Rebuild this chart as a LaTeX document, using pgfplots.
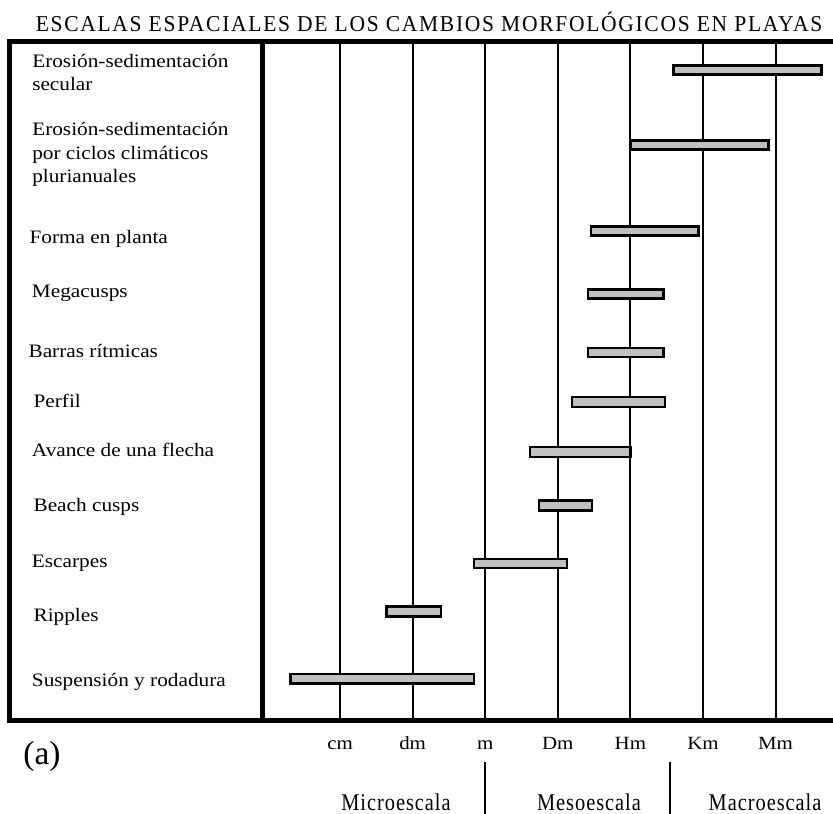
\documentclass[border=0pt]{standalone}
\usepackage{fontspec}
\setmainfont{Liberation Serif}
\newfontfamily\labfont{Liberation Serif}[FakeStretch=1.12]
\newfontfamily\titfont{Liberation Serif}[LetterSpace=7.5,FakeStretch=0.95]
\newfontfamily\sclfont{Liberation Serif}[LetterSpace=4,FakeStretch=0.85]
\usepackage{pgfplots}
\pgfplotsset{compat=1.18}
\definecolor{bargray}{RGB}{192,192,192}
\newcommand{\lab}{\labfont\fontsize{14.25}{17}\selectfont}
\begin{document}
\begin{tikzpicture}
\begin{axis}[
  at={(0,0)}, anchor=south west,
  scale only axis, width=617.25pt, height=509.625pt,
  xmin=-6.5465, xmax=4.791,
  ymin=41, ymax=720.5, y dir=reverse,
  axis line style={draw=none},
  xtick={-2,...,4}, xticklabels={cm,dm,m,Dm,Hm,Km,Mm},
  major tick length=0pt,
  ytick=\empty,
  xmajorgrids, grid style={black, line width=1.5pt},
  xticklabel style={font=\labfont\fontsize{14}{16}\selectfont, anchor=base, yshift=-21.4pt},
  clip=false,
]
% bars: (start, end) in decades of metres (m = 0), y = row position
\addplot[draw=black, fill=bargray, line width=2pt] coordinates {(2.592,65.5) (4.634,65.5) (4.634,74.5) (2.592,74.5)} -- cycle;
\addplot[draw=black, fill=bargray, line width=2pt] coordinates {(2.000,140.5) (3.900,140.5) (3.900,149.5) (2.000,149.5)} -- cycle;
\addplot[draw=black, fill=bargray, line width=2pt] coordinates {(1.457,226.5) (2.934,226.5) (2.934,235.5) (1.457,235.5)} -- cycle;
\addplot[draw=black, fill=bargray, line width=2pt] coordinates {(1.414,289.5) (2.456,289.5) (2.456,298.5) (1.414,298.5)} -- cycle;
\addplot[draw=black, fill=bargray, line width=2pt] coordinates {(1.414,348) (2.456,348) (2.456,357) (1.414,357)} -- cycle;
\addplot[draw=black, fill=bargray, line width=2pt] coordinates {(1.197,397) (2.476,397) (2.476,407) (1.197,407)} -- cycle;
\addplot[draw=black, fill=bargray, line width=2pt] coordinates {(0.617,447) (2.000,447) (2.000,457) (0.617,457)} -- cycle;
\addplot[draw=black, fill=bargray, line width=2pt] coordinates {(0.743,500.5) (1.471,500.5) (1.471,510.5) (0.743,510.5)} -- cycle;
\addplot[draw=black, fill=bargray, line width=2pt] coordinates {(-0.155,559) (1.125,559) (1.125,568) (-0.155,568)} -- cycle;
\addplot[draw=black, fill=bargray, line width=2pt] coordinates {(-1.359,606.5) (-0.607,606.5) (-0.607,616.5) (-1.359,616.5)} -- cycle;
\addplot[draw=black, fill=bargray, line width=2pt] coordinates {(-2.682,674) (-0.155,674) (-0.155,683.5) (-2.682,683.5)} -- cycle;
% frame
\draw[line width=3.75pt, line join=miter] (rel axis cs:1.01,1) -- (rel axis cs:0,1) -- (rel axis cs:0,0) -- (rel axis cs:1.01,0);
\draw[line width=3.75pt] (axis cs:-3.068,41) -- (axis cs:-3.068,720.5);
\draw[line width=1.9pt] (axis cs:0,762) -- (axis cs:0,818);
\draw[line width=1.9pt] (axis cs:2.546,762) -- (axis cs:2.546,818);
% row labels
\node[anchor=base west, inner sep=0, font=\lab] at (axis cs:-6.2434,67.7) {Erosión-sedimentación};
\node[anchor=base west, inner sep=0, font=\lab] at (axis cs:-6.2434,90.5) {secular};
\node[anchor=base west, inner sep=0, font=\lab] at (axis cs:-6.2434,135.5) {Erosión-sedimentación};
\node[anchor=base west, inner sep=0, font=\lab] at (axis cs:-6.2434,159.5) {por ciclos climáticos};
\node[anchor=base west, inner sep=0, font=\lab] at (axis cs:-6.2434,182) {plurianuales};
\node[anchor=base west, inner sep=0, font=\lab] at (axis cs:-6.2806,243) {Forma en planta};
\node[anchor=base west, inner sep=0, font=\lab] at (axis cs:-6.2476,297.5) {Megacusps};
\node[anchor=base west, inner sep=0, font=\lab] at (axis cs:-6.2944,357.5) {Barras rítmicas};
\node[anchor=base west, inner sep=0, font=\lab] at (axis cs:-6.2255,407) {Perfil};
\node[anchor=base west, inner sep=0, font=\lab] at (axis cs:-6.2476,456.5) {Avance de una flecha};
\node[anchor=base west, inner sep=0, font=\lab] at (axis cs:-6.2255,511) {Beach cusps};
\node[anchor=base west, inner sep=0, font=\lab] at (axis cs:-6.2476,567.3) {Escarpes};
\node[anchor=base west, inner sep=0, font=\lab] at (axis cs:-6.2255,621.7) {Ripples};
\node[anchor=base west, inner sep=0, font=\lab] at (axis cs:-6.2476,686.7) {Suspensión y rodadura};
% title and scale names
\node[anchor=base, inner sep=0, font=\titfont\fontsize{17}{20}\selectfont] at (axis cs:-0.774,31) {ESCALAS ESPACIALES DE LOS CAMBIOS MORFOLÓGICOS EN PLAYAS};
\node[anchor=base, inner sep=0, font=\sclfont\fontsize{18}{21}\selectfont] at (axis cs:-1.229,810) {Microescala};
\node[anchor=base, inner sep=0, font=\sclfont\fontsize{18}{21}\selectfont] at (axis cs:1.430,810) {Mesoescala};
\node[anchor=base, inner sep=0, font=\sclfont\fontsize{18}{21}\selectfont] at (axis cs:3.855,810) {Macroescala};
\node[anchor=base west, inner sep=0, font=\fontsize{25}{28}\selectfont] at (axis cs:-6.365,764) {(a)};
\end{axis}
\pgfresetboundingbox
\useasboundingbox (-7.5pt,-70.125pt) rectangle (617.25pt,540.375pt);
\end{tikzpicture}
\end{document}
